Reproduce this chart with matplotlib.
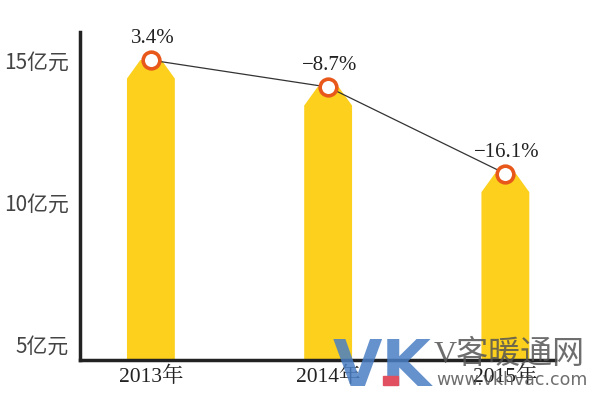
import matplotlib.pyplot as plt
from matplotlib.patches import Polygon, Rectangle

years = ['2013年', '2014年', '2015年']
sales = [15.0, 14.05, 11.0]          # 亿元
growth = ['3.4%', '\u22128.7%', '\u221216.1%']
ytick_vals = [5, 10, 15]
ytick_labels = ['5亿元', '10亿元', '15亿元']

bar_color = '#fcd01c'
serif = ['Liberation Serif', 'Noto Serif CJK SC', 'Noto Sans CJK SC']
sans = ['Noto Sans CJK SC', 'DejaVu Sans']

fig = plt.figure(figsize=(6.0, 4.07), dpi=100)
ax = fig.add_axes([80 / 600, 47 / 407, 475 / 600, 328 / 407])

ymin = 4.44
ax.set_xlim(-0.40, 2.28)
ax.set_ylim(ymin, 15.99)

hw = 0.135     # half bar width
tw = 0.06      # half width of flat top
drop = 0.65    # shoulder below apex

for i, v in enumerate(sales):
    poly = Polygon([(i - hw, ymin), (i - hw, v - drop), (i - tw, v),
                    (i + tw, v), (i + hw, v - drop), (i + hw, ymin)],
                   closed=True, facecolor=bar_color, edgecolor='none', zorder=2)
    ax.add_patch(poly)

xs = range(len(sales))
ax.plot(xs, sales, color='#333333', lw=0.9, zorder=3)
ax.plot(xs, sales, 'o', ms=12, mfc='white', mec='#e8581a', mew=2.6, zorder=4)

for i, (v, g) in enumerate(zip(sales, growth)):
    ax.text(i + 0.01, v + 0.42, g, ha='center', va='bottom', fontsize=15,
            family=serif, color='#222222', zorder=5)

for s in ['top', 'right']:
    ax.spines[s].set_visible(False)
ax.spines['left'].set_linewidth(2.5)
ax.spines['bottom'].set_linewidth(2.5)
ax.spines['left'].set_color('#222222')
ax.spines['bottom'].set_color('#222222')

ax.set_xticks(list(xs))
ax.set_xticklabels(years, family=serif, fontsize=15.5, color='#222222')
ax.set_yticks(ytick_vals)
ax.set_yticklabels(ytick_labels, family=sans, fontsize=15, color='#444444',
                   fontweight='light')
ax.tick_params(length=0, pad=8)
ax.tick_params(axis='x', pad=5)

# watermark
fig.text(333 / 600, 1 - 386 / 407, 'VK', fontsize=46, fontweight='bold',
         color='#4a7fc4', alpha=0.85, family=['DejaVu Sans'], va='baseline',
         zorder=10)
fig.add_artist(Rectangle((383 / 600, 1 - 385 / 407), 15 / 600, 9 / 407,
                         transform=fig.transFigure, color='#e05060', zorder=11))
fig.text(434 / 600, 1 - 363 / 407, 'V客暖通网', fontsize=23, color='#555555',
         alpha=0.85, family=['Liberation Serif', 'Noto Sans CJK SC'],
         va='baseline', zorder=10)
fig.text(436 / 600, 1 - 385 / 407, 'www.vkhvac.com', fontsize=12.5, color='#555555',
         alpha=0.85, family=['DejaVu Sans'], va='baseline', zorder=10)

fig.savefig('out.png', dpi=100)
